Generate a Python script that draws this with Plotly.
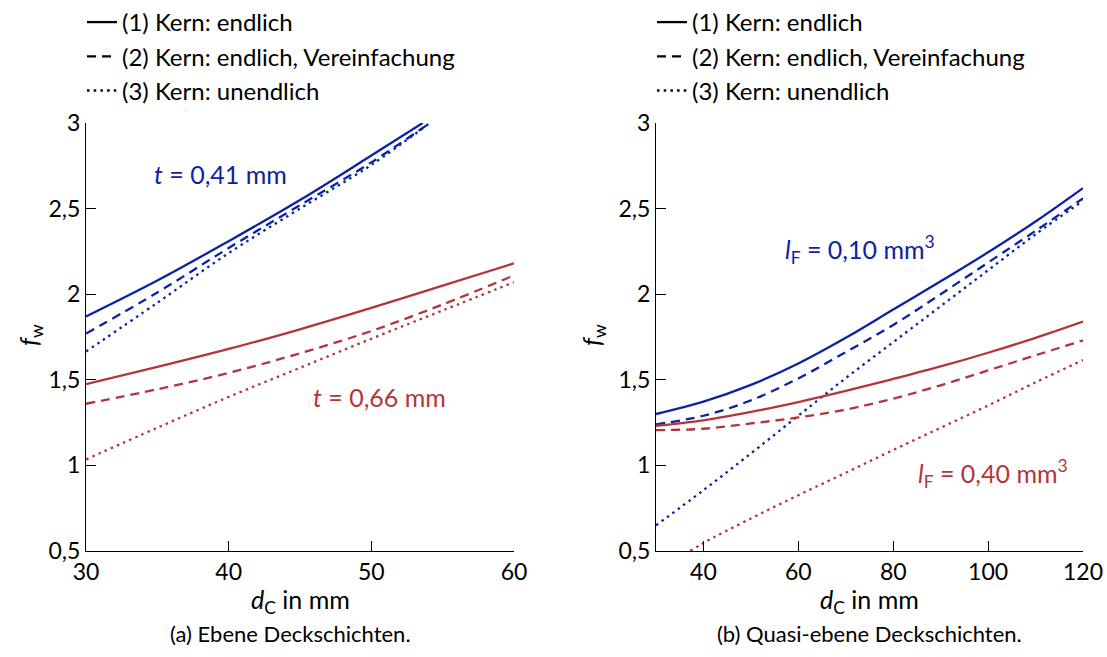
import plotly.graph_objects as go

# ---------------- data ----------------
# (a) Ebene Deckschichten
xa = [30, 35, 40, 45, 50, 55, 60]
a_blue_x1 = [30, 35, 40, 45, 50, 53.6]
a_blue_y1 = [1.87, 2.08, 2.31, 2.55, 2.81, 3.0]
a_blue_x2 = [30, 35, 40, 45, 50, 54.1]
a_blue_y2 = [1.77, 2.01, 2.27, 2.52, 2.77, 3.0]
a_blue_x3 = [30, 35, 40, 45, 50, 54.1]
a_blue_y3 = [1.665, 1.95, 2.24, 2.50, 2.755, 3.0]
a_red_y1 = [1.475, 1.575, 1.68, 1.795, 1.92, 2.05, 2.18]
a_red_y2 = [1.36, 1.445, 1.54, 1.655, 1.785, 1.94, 2.11]
a_red_y3 = [1.035, 1.22, 1.40, 1.57, 1.74, 1.905, 2.07]

# (b) Quasi-ebene Deckschichten
xb = [30, 40, 50, 60, 70, 80, 90, 100, 110, 120]
b_blue_y1 = [1.30, 1.372, 1.47, 1.595, 1.745, 1.91, 2.075, 2.245, 2.425, 2.62]
b_blue_y2 = [1.24, 1.29, 1.38, 1.508, 1.662, 1.82, 2.0, 2.185, 2.37, 2.56]
b_blue_y3 = [0.65, 0.855, 1.07, 1.29, 1.51, 1.72, 1.93, 2.14, 2.35, 2.545]
b_red_y1 = [1.231, 1.263, 1.312, 1.37, 1.435, 1.505, 1.578, 1.658, 1.745, 1.84]
b_red_y2 = [1.206, 1.214, 1.245, 1.28, 1.326, 1.39, 1.468, 1.555, 1.643, 1.73]
b_red_x3 = [37.2, 40, 50, 60, 70, 80, 90, 100, 110, 120]
b_red_y3 = [0.5, 0.547, 0.69, 0.826, 0.957, 1.09, 1.22, 1.35, 1.485, 1.615]

y_ticks = [0.5, 1, 1.5, 2, 2.5, 3]
y_ticktext = ["0,5", "1", "1,5", "2", "2,5", "3"]
xa_ticks = [30, 40, 50, 60]
xb_ticks = [40, 60, 80, 100, 120]

legend_names = ["(1) Kern: endlich", "(2) Kern: endlich, Vereinfachung", "(3) Kern: unendlich"]

# ---------------- style ----------------
BLUE = "#0b22a3"
RED = "#b5343c"
FONT = "Lato"
W = 2.3
DASHES = ["solid", "9px,6px", "2.5px,4.2px"]

fig = go.Figure()

def add(x, y, color, style, xaxis, yaxis):
    fig.add_trace(go.Scatter(
        x=x, y=y, mode="lines", showlegend=False, hoverinfo="skip",
        line=dict(color=color, width=W, dash=DASHES[style], shape="spline", smoothing=1.0),
        xaxis=xaxis, yaxis=yaxis, cliponaxis=True))

# panel a
add(a_blue_x1, a_blue_y1, BLUE, 0, "x", "y")
add(a_blue_x2, a_blue_y2, BLUE, 1, "x", "y")
add(a_blue_x3, a_blue_y3, BLUE, 2, "x", "y")
add(xa, a_red_y1, RED, 0, "x", "y")
add(xa, a_red_y2, RED, 1, "x", "y")
add(xa, a_red_y3, RED, 2, "x", "y")
# panel b
add(xb, b_blue_y1, BLUE, 0, "x2", "y2")
add(xb, b_blue_y2, BLUE, 1, "x2", "y2")
add(xb, b_blue_y3, BLUE, 2, "x2", "y2")
add(xb, b_red_y1, RED, 0, "x2", "y2")
add(xb, b_red_y2, RED, 1, "x2", "y2")
add(b_red_x3, b_red_y3, RED, 2, "x2", "y2")

# legend entries (black samples), one legend per panel
for leg in ["legend", "legend2"]:
    for i, name in enumerate(legend_names):
        fig.add_trace(go.Scatter(
            x=[None], y=[None], mode="lines", name=name, legend=leg,
            legendgroup=f"{leg}{i}",
            line=dict(color="black", width=W, dash=DASHES[i]),
            xaxis="x", yaxis="y"))

FW, FH = 1107, 657
def px_x(p):
    return p / FW
def px_y(p):
    return 1 - p / FH

ax_common = dict(
    showline=True, linecolor="black", linewidth=1.2, mirror=False,
    ticks="inside", ticklen=10, tickcolor="black", tickwidth=1.2,
    showgrid=False, zeroline=False, automargin=False,
    tickfont=dict(family=FONT, size=23, color="black"),
)

LEG_FONT = dict(family=FONT, size=24, color="black")
fig.update_layout(
    width=FW, height=FH,
    margin=dict(l=0, r=0, t=0, b=0),
    paper_bgcolor="white", plot_bgcolor="white",
    font=dict(family=FONT, size=22, color="black"),
    xaxis=dict(domain=[px_x(86), px_x(514)], range=[30, 60], tickvals=xa_ticks,
               anchor="y", **ax_common),
    yaxis=dict(domain=[px_y(551), px_y(123)], range=[0.5, 3], tickvals=y_ticks,
               ticktext=y_ticktext, anchor="x", **ax_common),
    xaxis2=dict(domain=[px_x(656), px_x(1083)], range=[30, 120], tickvals=xb_ticks,
                anchor="y2", **ax_common),
    yaxis2=dict(domain=[px_y(551), px_y(123)], range=[0.5, 3], tickvals=y_ticks,
                ticktext=y_ticktext, anchor="x2", **ax_common),
    legend=dict(x=px_x(82), y=1, xanchor="left", yanchor="top",
                font=LEG_FONT, tracegroupgap=0, bgcolor="rgba(0,0,0,0)", itemwidth=30),
    legend2=dict(x=px_x(652), y=1, xanchor="left", yanchor="top",
                 font=LEG_FONT, tracegroupgap=0, bgcolor="rgba(0,0,0,0)", itemwidth=30),
)

annots = [
    dict(x=39.4, y=2.70, xref="x", yref="y", text="<i>t</i> = 0,41 mm", font=dict(color=BLUE, size=25)),
    dict(x=50.6, y=1.40, xref="x", yref="y", text="<i>t</i> = 0,66 mm", font=dict(color=RED, size=25)),
    dict(x=73.0, y=2.26, xref="x2", yref="y2", text="<i>l</i><sub>F</sub> = 0,10 mm<sup>3</sup>", font=dict(color=BLUE, size=25)),
    dict(x=101.1, y=0.95, xref="x2", yref="y2", text="<i>l</i><sub>F</sub> = 0,40 mm<sup>3</sup>", font=dict(color=RED, size=25)),
    dict(x=px_x(300), y=px_y(601), xref="paper", yref="paper", text="<i>d</i><sub>C</sub> in mm", font=dict(size=25)),
    dict(x=px_x(870), y=px_y(601), xref="paper", yref="paper", text="<i>d</i><sub>C</sub> in mm", font=dict(size=25)),
    dict(x=px_x(30), y=px_y(335), xref="paper", yref="paper", text="<i>f</i><sub>w</sub>", textangle=-90, font=dict(size=25)),
    dict(x=px_x(593), y=px_y(335), xref="paper", yref="paper", text="<i>f</i><sub>w</sub>", textangle=-90, font=dict(size=25)),
    dict(x=px_x(290), y=px_y(633), xref="paper", yref="paper", text="(a) Ebene Deckschichten."),
    dict(x=px_x(870), y=px_y(633), xref="paper", yref="paper", text="(b) Quasi-ebene Deckschichten."),
]
for a in annots:
    f = dict(family=FONT, size=22, color="black")
    f.update(a.pop("font", {}))
    fig.add_annotation(showarrow=False, xanchor="center", yanchor="middle", font=f, **a)

fig.write_html("out.html")
